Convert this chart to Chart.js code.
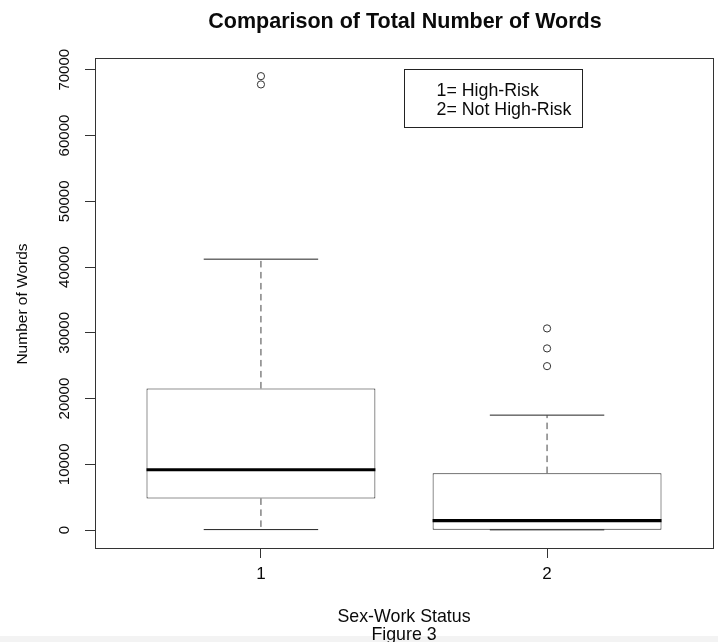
<!DOCTYPE html>
<html>
<head>
<meta charset="utf-8">
<script src="https://cdn.jsdelivr.net/npm/chart.js@4.4.1/dist/chart.umd.min.js"></script>
<style>
  html, body { margin: 0; padding: 0; background: #fff; }
  #wrap { width: 718px; height: 642px; }
</style>
</head>
<body>
<div id="wrap"><canvas id="chart" width="718" height="642"></canvas></div>
<script>
// Box-plot summary per sex-work status group
const CATEGORIES = ['1', '2'];
const LOWER_WHISKER = [80, 40];
const Q1 = [4820, 60];
const MEDIAN = [9180, 1430];
const Q3 = [21545, 8665];
const UPPER_WHISKER = [41200, 17485];
const OUTLIERS = [[67770, 69030], [24935, 27630, 30670]];
const Y_TICKS = [0, 10000, 20000, 30000, 40000, 50000, 60000, 70000];

const TITLE = 'Comparison of Total Number of Words';
const X_TITLE = 'Sex-Work Status';
const CAPTION = 'Figure 3';
const Y_TITLE = 'Number of Words';
const LEGEND_LINES = ['1= High-Risk', '2= Not High-Risk'];

// style constants
const BOX_WIDTH = 0.8;          // box width in group units
const CAP_WIDTH = 0.4;          // whisker cap width in group units
const LINE = '#222';
const TEXT = '#0a0a0a';
const FONT = '"Liberation Sans", Arial, Helvetica, sans-serif';

// axis ranges padded by 4% on each side
const allValues = [].concat(LOWER_WHISKER, Q1, MEDIAN, Q3, UPPER_WHISKER, ...OUTLIERS);
const yLo = Math.min(...allValues), yHi = Math.max(...allValues);
const yPad = 0.04 * (yHi - yLo);
const xLo = 0.5, xHi = CATEGORIES.length + 0.5;
const xPad = 0.04 * (xHi - xLo);

const datasets = [];

// boxes: Q1..Q3 as floating bars
datasets.push({
  type: 'bar',
  data: CATEGORIES.map((c, i) => ({ x: i + 1, y: [Q1[i], Q3[i]] })),
  backgroundColor: '#fff',
  borderColor: LINE,
  borderWidth: 1,
  borderSkipped: false,
  barPercentage: BOX_WIDTH,
  categoryPercentage: 1,
  order: 5
});

CATEGORIES.forEach((c, i) => {
  const cx = i + 1;
  const seg = (pts, extra) => Object.assign({
    type: 'line',
    data: pts,
    borderColor: LINE,
    borderWidth: 1,
    pointRadius: 0,
    fill: false,
    tension: 0,
    order: 1
  }, extra || {});
  // median
  datasets.push(seg([{ x: cx - BOX_WIDTH / 2, y: MEDIAN[i] }, { x: cx + BOX_WIDTH / 2, y: MEDIAN[i] }],
    { borderColor: '#000', borderWidth: 3.2 }));
  // dashed whiskers
  datasets.push(seg([{ x: cx, y: Q3[i] }, { x: cx, y: UPPER_WHISKER[i] }], { borderDash: [6.5, 4.5], borderColor: '#444' }));
  datasets.push(seg([{ x: cx, y: Q1[i] }, { x: cx, y: LOWER_WHISKER[i] }], { borderDash: [6.5, 4.5], borderColor: '#444' }));
  // caps
  datasets.push(seg([{ x: cx - CAP_WIDTH / 2, y: UPPER_WHISKER[i] }, { x: cx + CAP_WIDTH / 2, y: UPPER_WHISKER[i] }]));
  datasets.push(seg([{ x: cx - CAP_WIDTH / 2, y: LOWER_WHISKER[i] }, { x: cx + CAP_WIDTH / 2, y: LOWER_WHISKER[i] }]));
});

// outliers as open circles
datasets.push({
  type: 'scatter',
  data: OUTLIERS.flatMap((vals, i) => vals.map(v => ({ x: i + 1, y: v }))),
  pointStyle: 'circle',
  pointRadius: 3.6,
  pointBorderWidth: 1,
  pointBackgroundColor: 'rgba(0,0,0,0)',
  pointBorderColor: '#333',
  order: 1
});

// title, axis labels, tick labels, frame and legend box
const decorations = {
  id: 'decorations',
  beforeDraw(chart) {
    const ctx = chart.ctx;
    ctx.save();
    ctx.fillStyle = '#fff';
    ctx.fillRect(0, 0, chart.width, chart.height);
    ctx.fillStyle = '#f3f3f3';
    ctx.fillRect(0, 636, chart.width, chart.height - 636);
    ctx.restore();
  },
  afterDraw(chart) {
    const ctx = chart.ctx;
    const a = chart.chartArea;
    const xs = chart.scales.x, ys = chart.scales.y;
    ctx.save();

    // frame
    ctx.strokeStyle = '#333';
    ctx.lineWidth = 1;
    const l = Math.round(a.left) + 0.5, t = Math.round(a.top) + 0.5;
    const r = Math.round(a.right) + 0.5, b = Math.round(a.bottom) + 0.5;
    ctx.strokeRect(l, t, r - l, b - t);

    ctx.fillStyle = TEXT;
    // main title
    ctx.font = 'bold 21.5px ' + FONT;
    ctx.textAlign = 'center';
    ctx.textBaseline = 'alphabetic';
    ctx.fillText(TITLE, (a.left + a.right) / 2 + 1, 27.5);

    // x tick labels
    ctx.font = '17px ' + FONT;
    CATEGORIES.forEach((c, i) => {
      ctx.fillText(c, xs.getPixelForValue(i + 1), 579);
    });

    // x title and caption
    ctx.font = '17.8px ' + FONT;
    ctx.fillText(X_TITLE, (a.left + a.right) / 2, 621.5);
    ctx.fillText(CAPTION, (a.left + a.right) / 2, 639.5);

    // y tick labels, rotated
    ctx.font = '15px ' + FONT;
    Y_TICKS.forEach(v => {
      ctx.save();
      ctx.translate(69, ys.getPixelForValue(v));
      ctx.rotate(-Math.PI / 2);
      ctx.fillText(String(v), 0, 0);
      ctx.restore();
    });

    // y title
    ctx.font = '15.5px ' + FONT;
    ctx.save();
    ctx.translate(27, (a.top + a.bottom) / 2 + 1);
    ctx.rotate(-Math.PI / 2);
    ctx.fillText(Y_TITLE, 0, 0);
    ctx.restore();

    // legend box
    const lx = Math.round(a.left + 309) + 0.5, ly = Math.round(a.top + 11) + 0.5;
    ctx.strokeStyle = LINE;
    ctx.strokeRect(lx, ly, 178, 58);
    ctx.font = '17.8px ' + FONT;
    ctx.textAlign = 'left';
    LEGEND_LINES.forEach((s, k) => {
      ctx.fillText(s, lx + 32, ly + 26 + k * 19.4);
    });

    ctx.restore();
  }
};

new Chart(document.getElementById('chart'), {
  type: 'scatter',
  data: { datasets },
  options: {
    responsive: false,
    animation: false,
    devicePixelRatio: 1,
    layout: { padding: { left: 85, right: 5, top: 58, bottom: 84 } },
    plugins: {
      legend: { display: false },
      tooltip: { enabled: false },
      title: { display: false }
    },
    scales: {
      x: {
        type: 'linear',
        offset: false,
        min: xLo - xPad,
        max: xHi + xPad,
        afterBuildTicks: axis => { axis.ticks = CATEGORIES.map((c, i) => ({ value: i + 1 })); },
        ticks: { display: false },
        grid: { offset: false, drawOnChartArea: false, drawTicks: true, tickLength: 10, color: '#333', lineWidth: 1 },
        border: { display: false }
      },
      y: {
        type: 'linear',
        min: yLo - yPad,
        max: yHi + yPad,
        afterBuildTicks: axis => { axis.ticks = Y_TICKS.map(v => ({ value: v })); },
        ticks: { display: false },
        grid: { drawOnChartArea: false, drawTicks: true, tickLength: 10, color: '#333', lineWidth: 1 },
        border: { display: false }
      }
    }
  },
  plugins: [decorations]
});
</script>
</body>
</html>
